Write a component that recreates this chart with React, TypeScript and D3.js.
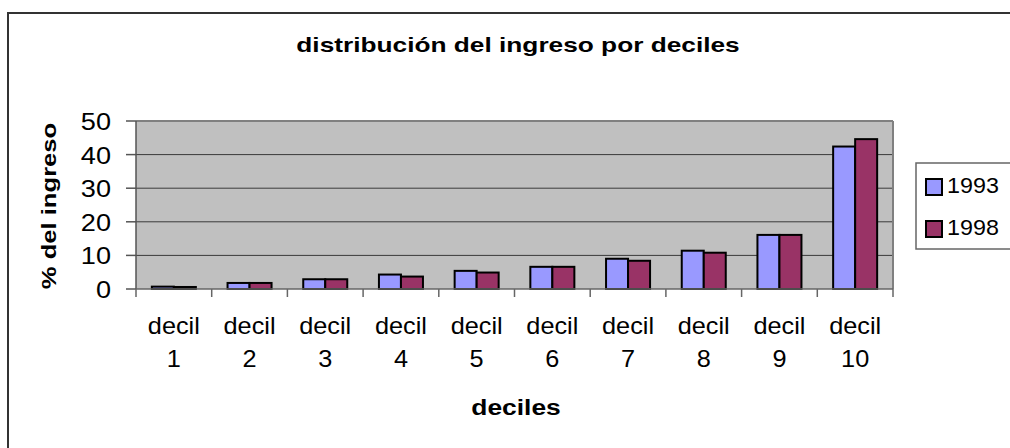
import React from 'react';
import * as d3 from 'd3';

// distribución del ingreso por deciles
const categories = ['decil 1', 'decil 2', 'decil 3', 'decil 4', 'decil 5', 'decil 6', 'decil 7', 'decil 8', 'decil 9', 'decil 10'];
const series = ['1993', '1998'];
const values1993 = [0.7, 1.8, 2.9, 4.3, 5.4, 6.6, 9.0, 11.4, 16.1, 42.4];
const values1998 = [0.6, 1.8, 2.9, 3.7, 4.9, 6.6, 8.4, 10.8, 16.1, 44.6];
const yTicks = [0, 10, 20, 30, 40, 50];
const colors = ['#9999FF', '#993366'];

const FONT = '"Liberation Sans", Arial, sans-serif';

const App = () => {
  const width = 1010;
  const height = 448;
  const plot = { left: 136, right: 893, top: 121, bottom: 289 };

  const x = d3.scaleBand<string>().domain(categories).range([plot.left, plot.right]).padding(0);
  const xSub = d3.scaleBand<string>().domain(series).range([0, x.bandwidth()]).paddingInner(0).paddingOuter(0.72);
  const y = d3.scaleLinear().domain([0, 50]).range([plot.bottom, plot.top]);

  const data = [values1993, values1998];
  const boundaries = categories.map(c => x(c) as number).concat([plot.right]);

  return (
    <svg width={width} height={height} style={{ position: 'absolute', left: 0, top: 0, background: '#fff' }}
      fontFamily={FONT}>
      {/* chart frame */}
      <rect x={8} y={13} width={1100} height={500} fill="#fff" stroke="#333" strokeWidth={2} />

      {/* title */}
      <text transform="translate(518,52) scale(1.25,1)" textAnchor="middle" fontSize={21} fontWeight="bold">
        distribución del ingreso por deciles
      </text>

      {/* plot area */}
      <rect x={plot.left} y={plot.top} width={plot.right - plot.left} height={plot.bottom - plot.top} fill="#C0C0C0" />
      {yTicks.slice(1, -1).map(t => (
        <line key={t} x1={plot.left} x2={plot.right} y1={y(t)} y2={y(t)} stroke="#3a3a3a" strokeWidth={1} />
      ))}
      <line x1={plot.left} x2={plot.right} y1={plot.top} y2={plot.top} stroke="#808080" strokeWidth={2} />
      <line x1={plot.right} x2={plot.right} y1={plot.top} y2={plot.bottom} stroke="#808080" strokeWidth={2} />

      {/* bars */}
      {categories.map((c, i) => (
        <g key={c} transform={`translate(${x(c)},0)`}>
          {series.map((s, j) => (
            <rect key={s} x={xSub(s)} y={y(data[j][i])} width={xSub.bandwidth()}
              height={y(0) - y(data[j][i])} fill={colors[j]} stroke="#000" strokeWidth={2} />
          ))}
        </g>
      ))}

      {/* axes */}
      <line x1={plot.left} x2={plot.left} y1={plot.top} y2={plot.bottom} stroke="#555" strokeWidth={1.5} />
      <line x1={plot.left} x2={plot.right} y1={plot.bottom} y2={plot.bottom} stroke="#666" strokeWidth={1.5} />
      {yTicks.map(t => (
        <g key={t}>
          <line x1={plot.left - 10} x2={plot.left} y1={y(t)} y2={y(t)} stroke="#555" strokeWidth={1.5} />
          <text transform={`translate(111,${y(t) + 9}) scale(1.13,1)`} textAnchor="end" fontSize={24}>{t}</text>
        </g>
      ))}
      {boundaries.map((b, i) => (
        <line key={i} x1={b} x2={b} y1={plot.bottom} y2={plot.bottom + 8} stroke="#666" strokeWidth={1.5} />
      ))}
      {categories.map(c => {
        const cx = (x(c) as number) + x.bandwidth() / 2;
        const [w1, w2] = c.split(' ');
        return (
          <g key={c}>
            <text transform={`translate(${cx},334) scale(1.1,1)`} textAnchor="middle" fontSize={23}>{w1}</text>
            <text transform={`translate(${cx},367) scale(1.1,1)`} textAnchor="middle" fontSize={23}>{w2}</text>
          </g>
        );
      })}

      {/* axis titles */}
      <text transform="translate(516,415) scale(1.2,1)" textAnchor="middle" fontSize={22} fontWeight="bold">deciles</text>
      <text transform="translate(56,206) rotate(-90) scale(1.22,1)" textAnchor="middle" fontSize={21} fontWeight="bold">
        % del ingreso
      </text>

      {/* legend */}
      <rect x={916} y={163} width={120} height={86} fill="#fff" stroke="#666" strokeWidth={1.5} />
      {series.map((s, j) => (
        <g key={s} transform={`translate(926,${179 + j * 42})`}>
          <rect x={0} y={0} width={16} height={16} fill={colors[j]} stroke="#000" strokeWidth={2} />
          <text transform="translate(21,14) scale(1.06,1)" fontSize={22}>{s}</text>
        </g>
      ))}
    </svg>
  );
};

export default App;
